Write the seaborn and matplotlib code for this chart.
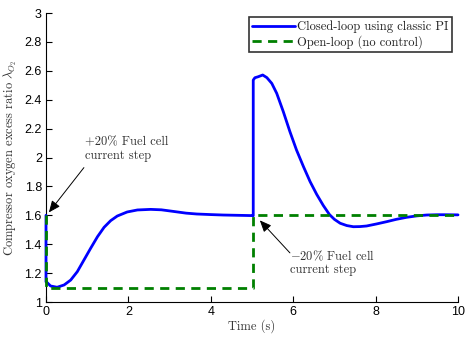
import matplotlib
matplotlib.use("Agg")
import matplotlib.pyplot as plt
import pandas as pd
import seaborn as sns

# Closed-loop response with the classic PI controller
t_pi = [0.0, 0.0, 0.03, 0.11, 0.27, 0.44, 0.60, 0.76, 0.92, 1.08, 1.25, 1.41,
        1.57, 1.73, 1.97, 2.22, 2.54, 2.80, 3.09, 3.40, 3.66, 4.00, 4.30,
        4.65, 5.00, 5.03, 5.03, 5.07, 5.15, 5.26, 5.36, 5.48, 5.60, 5.76,
        5.92, 6.08, 6.25, 6.41, 6.57, 6.73, 6.88, 7.00, 7.14, 7.30, 7.46,
        7.62, 7.78, 8.02, 8.27, 8.50, 8.75, 9.00, 9.24, 9.50, 9.73, 10.0]
lam_pi = [1.60, 1.14, 1.134, 1.111, 1.102, 1.118, 1.152, 1.21, 1.29, 1.37,
          1.452, 1.517, 1.563, 1.595, 1.623, 1.637, 1.641, 1.638, 1.627,
          1.615, 1.609, 1.605, 1.602, 1.600, 1.598, 1.597, 2.536, 2.552,
          2.559, 2.571, 2.553, 2.513, 2.444, 2.317, 2.179, 2.052, 1.936,
          1.833, 1.745, 1.668, 1.605, 1.572, 1.545, 1.529, 1.521, 1.522,
          1.526, 1.540, 1.556, 1.572, 1.586, 1.596, 1.602, 1.604, 1.604,
          1.603]

# Open-loop response (no control)
t_ol = [0.0, 0.0, 5.02, 5.02, 10.0]
lam_ol = [1.60, 1.10, 1.10, 1.60, 1.60]

series_labels = ["Closed-loop using classic PI", "Open-loop (no control)"]
x_ticks = [0, 2, 4, 6, 8, 10]
y_ticks = [1, 1.2, 1.4, 1.6, 1.8, 2, 2.2, 2.4, 2.6, 2.8, 3]

sns.set_style("ticks")
plt.rcParams["mathtext.fontset"] = "cm"
plt.rcParams["font.family"] = ["Liberation Sans", "DejaVu Sans"]

df_pi = pd.DataFrame({"t": t_pi, "lam": lam_pi})
df_ol = pd.DataFrame({"t": t_ol, "lam": lam_ol})

fig = plt.figure(figsize=(4.65, 3.38), dpi=100)
ax = fig.add_axes([0.0989, 0.1065, 0.8861, 0.855])

sns.lineplot(data=df_pi, x="t", y="lam", ax=ax, sort=False, estimator=None,
             color="#0000FF", linewidth=2.0, label=series_labels[0])
sns.lineplot(data=df_ol, x="t", y="lam", ax=ax, sort=False, estimator=None,
             color="#008000", linewidth=2.0, dashes=False,
             label=series_labels[1])
ax.lines[1].set_dashes((3.3, 2.3))
for ln in ax.lines[:2]:
    ln.set_clip_on(False)
    ln.set_zorder(3)
    ln.set_solid_joinstyle("round")

ax.set_xlim(0, 10)
ax.set_ylim(1, 3)
ax.set_xticks(x_ticks)
ax.set_yticks(y_ticks)
ax.set_xticklabels([f"{v:g}" for v in x_ticks])
ax.set_yticklabels([f"{v:g}" for v in y_ticks])
ax.tick_params(direction="in", length=4, width=0.8, labelsize=9,
               colors="black", pad=3)
sns.despine(ax=ax)
for s in ("left", "bottom"):
    ax.spines[s].set_linewidth(0.8)
    ax.spines[s].set_color("black")

serif = {"family": "cmr10", "color": "#333333"}
ax.set_xlabel("Time (s)", fontdict=dict(serif, size=9), labelpad=1)
ax.set_ylabel(r"Compressor oxygen excess ratio $\lambda_{O_2}$",
              fontdict=dict(serif, size=9), labelpad=4)

leg = ax.legend(loc="upper right", bbox_to_anchor=(0.985, 0.985),
                prop={"family": "cmr10", "size": 9}, frameon=True,
                fancybox=False, handlelength=3.4, handletextpad=0.2,
                borderpad=0.25, labelspacing=0.15, borderaxespad=0.0)
leg.get_frame().set_edgecolor("black")
leg.get_frame().set_linewidth(1.2)
for txt in leg.get_texts():
    txt.set_color("#222222")

arrow = dict(arrowstyle="-|>,head_length=0.7,head_width=0.3",
             color="black", lw=0.7, shrinkA=0, shrinkB=0)
ax.annotate("", xy=(0.07, 1.62), xytext=(0.92, 1.93), arrowprops=arrow)
ax.text(0.95, 1.97, "+20% Fuel cell\ncurrent step", fontdict=dict(serif, size=9),
        va="bottom", ha="left", linespacing=1.15)
ax.annotate("", xy=(5.19, 1.565), xytext=(5.92, 1.34), arrowprops=arrow)
ax.text(5.92, 1.37, "$-$20% Fuel cell\ncurrent step", fontdict=dict(serif, size=9),
        va="top", ha="left", linespacing=1.15)

fig.savefig("out.png", dpi=100)
